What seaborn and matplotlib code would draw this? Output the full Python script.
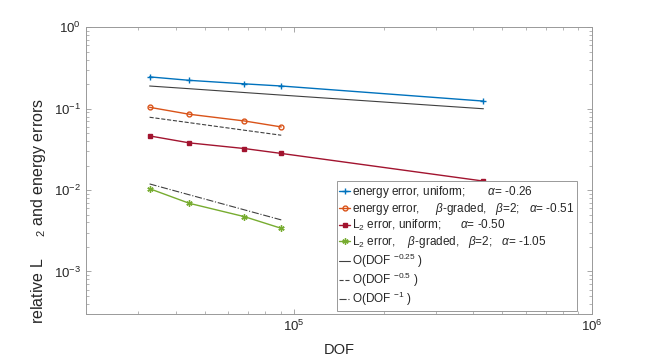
import matplotlib
matplotlib.use('Agg')
import matplotlib.pyplot as plt
import seaborn as sns
import numpy as np
import pandas as pd

# DOF of the meshes
dof_uniform = [32700, 44500, 68000, 90500, 432000]
dof_graded = [32700, 44500, 68000, 90500]

# relative errors
energy_uniform = [0.246, 0.223, 0.202, 0.190, 0.124]
energy_graded = [0.104, 0.0854, 0.0707, 0.0597]
l2_uniform = [0.0463, 0.0380, 0.0324, 0.0282, 0.0129]
l2_graded = [0.0104, 0.00687, 0.00472, 0.00339]

# reference slopes
ref_025 = [0.190, 0.176, 0.158, 0.147, 0.0998]
ref_05 = [0.0785, 0.0673, 0.0544, 0.0472]
ref_1 = [0.0119, 0.00874, 0.00572, 0.00430]

A = '$\\mathit{\\alpha}$'
B = '$\\mathit{\\beta}$'
labels = [
    'energy error, uniform;       ' + A + '= -0.26',
    'energy error,     ' + B + '-graded,   ' + B + '=2;   ' + A + '= -0.51',
    'L$_2$ error, uniform;      ' + A + '= -0.50',
    'L$_2$ error,    ' + B + '-graded,   ' + B + '=2;   ' + A + '= -1.05',
    'O(DOF $^{-0.25}$ )',
    'O(DOF $^{-0.5}$ )',
    'O(DOF $^{-1}$ )',
]

sns.set_style('ticks')
plt.rcParams['font.family'] = ['Liberation Sans', 'DejaVu Sans']
plt.rcParams['mathtext.fontset'] = 'custom'
plt.rcParams['mathtext.rm'] = 'Liberation Sans'
plt.rcParams['mathtext.it'] = 'Liberation Sans:italic'
plt.rcParams['mathtext.default'] = 'regular'

fig = plt.figure(figsize=(6.54, 3.57), dpi=100)
ax = fig.add_axes([0.1315, 0.1204, 0.7737, 0.8031])
ax.set_xscale('log')
ax.set_yscale('log')

series = [
    (dof_uniform, energy_uniform, '#0072BD', '+', 'none', 4.5, labels[0]),
    (dof_graded, energy_graded, '#D95319', 'o', 'none', 3.5, labels[1]),
    (dof_uniform, l2_uniform, '#A2142F', 's', '#A2142F', 2.5, labels[2]),
    (dof_graded, l2_graded, '#77AC30', (6, 2, 0), '#77AC30', 4.5, labels[3]),
]
for x, y, c, m, mfc, ms, lab in series:
    df = pd.DataFrame({'DOF': x, 'err': y})
    sns.lineplot(data=df, x='DOF', y='err', ax=ax, color=c, lw=1.0,
                 marker=m, markersize=ms, markerfacecolor=mfc,
                 markeredgecolor=c, markeredgewidth=1.0, label=lab)

refs = [
    (dof_uniform, ref_025, '-', labels[4]),
    (dof_graded, ref_05, '--', labels[5]),
    (dof_graded, ref_1, '-.', labels[6]),
]
for x, y, ls, lab in refs:
    df = pd.DataFrame({'DOF': x, 'err': y})
    sns.lineplot(data=df, x='DOF', y='err', ax=ax, color='#404040',
                 lw=0.8, linestyle=ls, label=lab)

ax.set_xlim(2e4, 1e6)
ax.set_ylim(3e-4, 1)

for s in ax.spines.values():
    s.set_visible(True)
    s.set_color('#999999')
    s.set_linewidth(0.7)
ax.tick_params(which='both', direction='in', top=True, right=True,
               colors='#999999', labelcolor='#262626', labelsize=9.5)
ax.tick_params(which='major', length=3.5, width=0.6)
ax.tick_params(which='minor', length=2, width=0.5)

ax.set_xlabel('DOF', fontsize=10.5, color='#262626')
ax.xaxis.set_label_coords(0.5, -0.1)
ax.set_ylabel('relative L     $_{2}$ and energy errors', fontsize=11.5,
              color='#262626')
ax.yaxis.set_label_coords(-0.075, 0.359)

leg = ax.legend(loc='upper left', bbox_to_anchor=(0.496, 0.463), fontsize=8.5,
                frameon=True, fancybox=False, framealpha=1, edgecolor='#999999',
                handlelength=0.9, handletextpad=0.2, borderpad=0.2,
                labelspacing=0.1, borderaxespad=0)
leg.get_frame().set_linewidth(0.7)

fig.savefig('out.png', dpi=100)
